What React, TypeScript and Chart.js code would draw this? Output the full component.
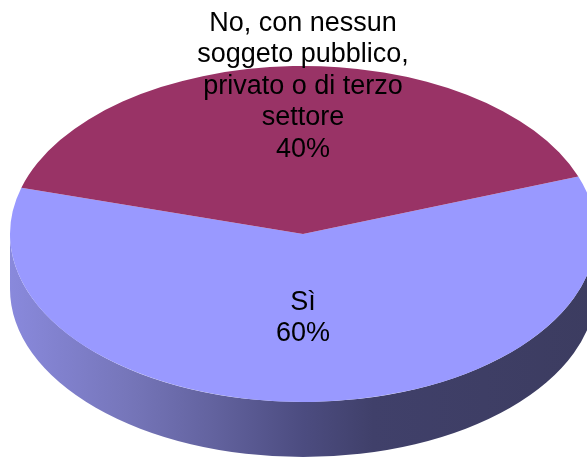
import { useEffect, useRef } from "react";
import { Chart, registerables } from "chart.js";

Chart.register(...registerables);

// ---- data ----
const categories: string[][] = [
  ["Sì"],
  ["No, con nessun", "soggeto pubblico,", "privato o di terzo", "settore"],
];
const values: number[] = [60, 40];
const topColors: string[] = ["#9999FF", "#993366"];
const sideStops: string[][] = [
  ["#8989dc", "#7676ba", "#62629e", "#4c4c80", "#40406a", "#3c3c60"],
  ["#7a2a52", "#6a2448", "#5a1e3e", "#4a1834", "#40142c", "#3a1228"],
];

const pie3d = {
  id: "pie3d",
  beforeDatasetsDraw(chart: any, _args: any, opts: any) {
    const meta = chart.getDatasetMeta(0);
    const arcs = meta.data;
    if (!arcs.length) return;
    const ctx = chart.ctx as CanvasRenderingContext2D;
    const a0: any = arcs[0];
    const cx = a0.x, cy = a0.y, R = a0.outerRadius;
    const rx = opts.rx, ry = R, d = opts.depth;
    arcs.forEach((arc: any, i: number) => {
      const s = arc.startAngle, e = arc.endAngle;
      for (let k = -2; k <= 2; k++) {
        const ss = Math.max(s + 2 * Math.PI * k, 0);
        const ee = Math.min(e + 2 * Math.PI * k, Math.PI);
        if (ee > ss) {
          const g = ctx.createLinearGradient(cx - rx, 0, cx + rx, 0);
          const stops = sideStops[i];
          const pos = [0, 0.2, 0.35, 0.5, 0.62, 1];
          stops.forEach((c, j) => g.addColorStop(pos[j], c));
          ctx.beginPath();
          ctx.ellipse(cx, cy, rx, ry, 0, ss, ee, false);
          ctx.ellipse(cx, cy + d, rx, ry, 0, ee, ss, true);
          ctx.closePath();
          ctx.fillStyle = g;
          ctx.fill();
        }
      }
    });
    ctx.save();
    ctx.translate(cx, cy);
    ctx.scale(rx / R, 1);
    ctx.translate(-cx, -cy);
  },
  afterDatasetsDraw(chart: any, _args: any, opts: any) {
    const ctx = chart.ctx as CanvasRenderingContext2D;
    ctx.restore();
    const meta = chart.getDatasetMeta(0);
    const arcs = meta.data;
    if (!arcs.length) return;
    const total = values.reduce((a, b) => a + b, 0);
    ctx.save();
    ctx.font = opts.font;
    ctx.fillStyle = "#000";
    ctx.textAlign = "center";
    ctx.textBaseline = "middle";
    arcs.forEach((arc: any, i: number) => {
      const R = arc.outerRadius;
      const mid = (arc.startAngle + arc.endAngle) / 2;
      const x = arc.x + opts.rx * opts.fx * Math.cos(mid);
      const y = arc.y + R * opts.fy[i] * Math.sin(mid);
      const lines = [...categories[i], Math.round((values[i] / total) * 100) + "%"];
      const lh = opts.lineHeight;
      const top = y - ((lines.length - 1) * lh) / 2;
      lines.forEach((t, j) => ctx.fillText(t, x, top + j * lh));
    });
    ctx.restore();
  },
};

export default function App() {
  const ref = useRef<HTMLCanvasElement | null>(null);
  useEffect(() => {
    if (!ref.current) return;
    const chart = new Chart(ref.current, {
      type: "pie",
      data: {
        labels: categories,
        datasets: [
          {
            data: values,
            backgroundColor: topColors,
            borderWidth: 0,
            radius: 168,
            clip: false,
          } as any,
        ],
      },
      options: {
        animation: false,
        responsive: true,
        maintainAspectRatio: false,
        rotation: 70,
        layout: { padding: { left: 19, top: 11, right: 0, bottom: 0 } },
        plugins: {
          legend: { display: false },
          tooltip: { enabled: false },
          pie3d: {
            rx: 293,
            depth: 55,
            font: "27px 'Liberation Sans', Arial, sans-serif",
            lineHeight: 31.5,
            fx: 0,
            fy: [0.5, 0.88],
          },
        } as any,
      },
      plugins: [pie3d],
    });
    return () => chart.destroy();
  }, []);
  return (
    <div style={{ position: "absolute", left: 0, top: 0, width: 587, height: 457 }}>
      <canvas ref={ref} />
    </div>
  );
}
